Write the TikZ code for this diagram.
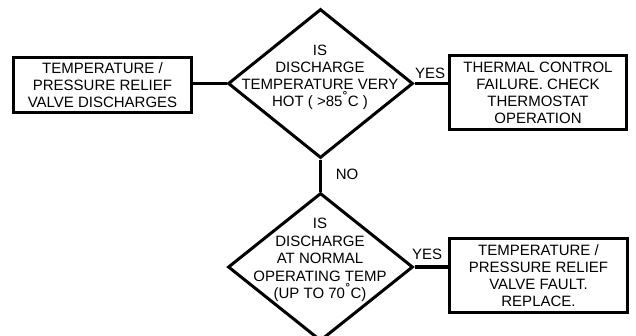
\documentclass[tikz,border=0pt]{standalone}
\usepackage{fontspec}
\setmainfont{Liberation Sans}
\usetikzlibrary{shapes.geometric}
\begin{document}
\begin{tikzpicture}[x=1pt,y=-1pt,
  box/.style={draw, line width=3pt, align=center, inner sep=0pt,
    font=\fontsize{15}{17}\selectfont},
  dia/.style={draw, diamond, line width=3pt, inner sep=0pt,
    minimum width=185pt, minimum height=149pt},
  txt/.style={align=center, inner sep=0pt, font=\fontsize{15}{17}\selectfont},
  txtb/.style={align=center, inner sep=0pt, font=\fontsize{15}{17.5}\selectfont},
  conn/.style={line width=3.5pt},
  lbl/.style={inner sep=0pt, font=\fontsize{15}{17}\selectfont}]
\useasboundingbox (0,0) rectangle (636,335);

\node[box, minimum width=178pt, minimum height=55pt] (l) at (102.5,85)
  {TEMPERATURE /\\PRESSURE RELIEF\\VALVE DISCHARGES};
\node[dia] (d1) at (320.5,83.5) {};
\node[txt] (d1t) at (320,77.5)
  {IS\\DISCHARGE\\TEMPERATURE VERY\\HOT ( >85\kern0.5pt\raisebox{0.35ex}{˚}C )};
\node[box, minimum width=177pt, minimum height=74pt] (r1) at (538,92.5)
  {THERMAL CONTROL\\FAILURE. CHECK\\THERMOSTAT\\OPERATION};

\node[dia, minimum height=148pt] (d2) at (320.5,267) {};
\node[txtb] (d2t) at (320,260)
  {IS\\DISCHARGE\\AT NORMAL\\OPERATING TEMP\\(UP TO 70\kern0.5pt\raisebox{0.35ex}{˚}C)};
\node[box, minimum width=178pt, minimum height=74pt] (r2) at (538.5,275.5)
  {TEMPERATURE /\\PRESSURE RELIEF\\VALVE FAULT.\\REPLACE.};

\draw[conn] (d1.west) -- (d1.west -| l.east);
\draw[conn] (d1.east) -- (d1.east -| r1.west);
\draw[conn] (d1.south) -- (d2.north);
\draw[conn] (d2.east) -- (d2.east -| r2.west);

\node[lbl] (yes1) at (430,73) {YES};
\node[lbl] (no) at (347,174) {NO};
\node[lbl] (yes2) at (427,254) {YES};
\end{tikzpicture}
\end{document}
